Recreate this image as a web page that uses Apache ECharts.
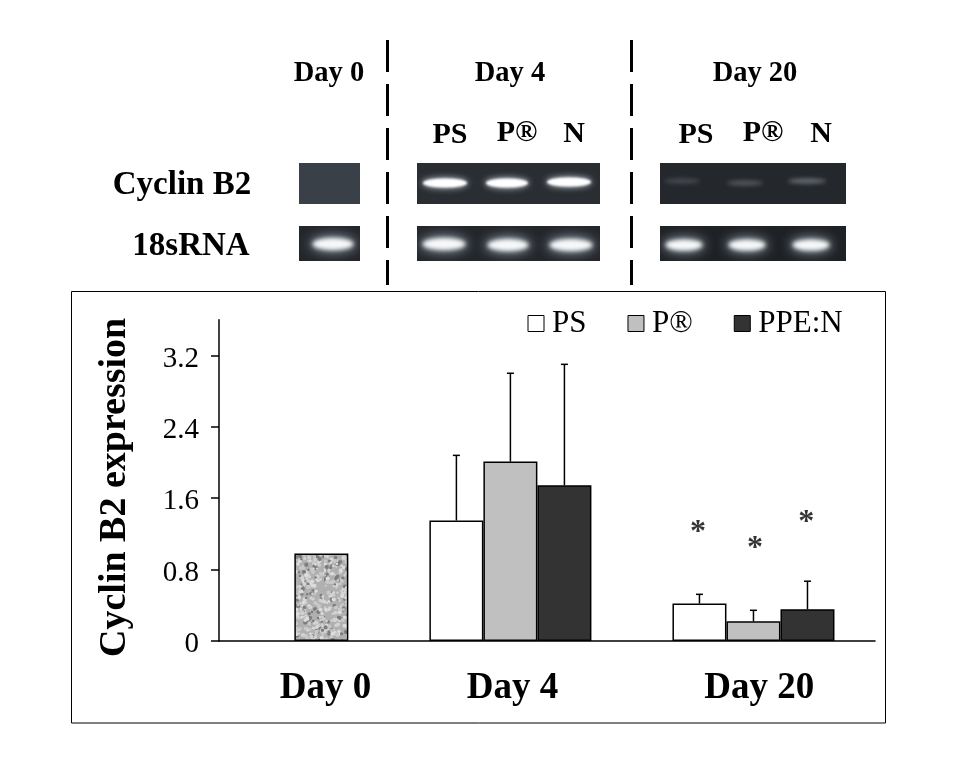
<!DOCTYPE html>
<html>
<head>
<meta charset="utf-8">
<style>html,body{margin:0;padding:0;background:#fff}#c{width:955px;height:784px}</style>
<script src="https://cdn.jsdelivr.net/npm/echarts@6/dist/echarts.min.js"></script>
</head>
<body>
<div id="c"></div>
<script>
// ---- chart data ----
const seriesNames = ['PS', 'P®', 'PPE:N'];
const dayLabels = ['Day 0', 'Day 4', 'Day 20'];
const dayLabelSlots = [4.15, 11.08, 20.21];
const yTickValues = [0, 0.8, 1.6, 2.4, 3.2];
const day0Slot = [4];
const day0Value = [0.98];
const psSlots = [9, 18];
const pSlots = [11, 20];
const nSlots = [13, 22];
const psValues = [1.35, 0.42];
const pValues = [2.01, 0.22];
const nValues = [1.745, 0.355];
const psErrorTop = [2.08, 0.523];
const pErrorTop = [3.0, 0.344];
const nErrorTop = [3.10, 0.67];
const starSlots = [17.95, 20.06, 21.95];
const starValues = [1.21, 1.03, 1.32];

// ---- gel picture above the chart ----
const gelPanels = [
  [299, 163, 61, 41, '#3a4047'], [417, 163, 183, 41, '#2a2e33'], [660, 163, 186, 41, '#24272b'],
  [299, 226, 61, 35, '#23262b'], [417, 226, 183, 35, '#23262b'], [660, 226, 186, 35, '#1e2125']
];
const strongBands = [[445, 183, 22, 4.5], [507, 183, 21, 4.5], [569, 182, 22, 4.5]];
const loadBands = [[333, 244, 20, 5.5], [444, 244, 21, 5.5], [508, 245, 20, 5.5], [571, 245, 21, 5.5],
                   [684, 245, 18, 5], [747, 245, 18, 5], [811, 245, 18, 5]];
const faintBands = [[682, 181, 18, 2.5, .22], [745, 183, 18, 2.5, .3], [807, 181, 19, 2.5, .42]];
const gelTexts = [
  ['Day 0', 329, 74, 28.5], ['Day 4', 510, 74, 28.5], ['Day 20', 755, 74, 28.5],
  ['PS', 450, 135, 30], ['P®', 517, 133, 30], ['N', 574, 134, 30],
  ['PS', 696, 135, 30], ['P®', 763, 133, 30], ['N', 821, 134, 30],
  ['Cyclin B2', 182, 185, 33], ['18sRNA', 191, 246, 33]
];
const dividerX = [387.5, 631.5];

const black = '#000';
const serif = '"Liberation Serif","Times New Roman",serif';

function grainTile() {
  const c = document.createElement('canvas');
  c.width = 54; c.height = 88;
  const g = c.getContext('2d');
  g.fillStyle = '#b0b0b0';
  g.fillRect(0, 0, 54, 88);
  const shades = ['#7c7c7c', '#d2d2d2', '#969696', '#c8c8c8', '#6a6a6a', '#dcdcdc', '#8c8c8c'];
  for (let i = 0; i < 420; i++) {
    const x = (i * 37.7) % 54, y = (i * i * 0.61 + i * 13.3) % 88;
    g.fillStyle = shades[(i * 5 + (i >> 2)) % 7];
    g.beginPath();
    g.arc(x, y, 1.2 + (i % 3) * 0.45, 0, 7);
    g.fill();
  }
  return c;
}

// The gel photograph is painted once to an offscreen canvas so the bands can be truly blurred.
function gelPicture() {
  const c = document.createElement('canvas');
  c.width = 955; c.height = 300;
  const g = c.getContext('2d');
  function band(b, blur, grow, fill) {
    g.filter = 'blur(' + blur + 'px)';
    g.fillStyle = fill;
    g.beginPath();
    g.ellipse(b[0], b[1], b[2] + grow, b[3] + grow, 0, 0, 7);
    g.fill();
    g.filter = 'none';
  }
  gelPanels.forEach(p => {
    g.save();
    g.beginPath();
    g.rect(p[0], p[1], p[2], p[3]);
    g.clip();
    g.fillStyle = p[4];
    g.fillRect(p[0], p[1], p[2], p[3]);
    strongBands.forEach(b => { band(b, 3, 1, 'rgba(215,225,232,.75)'); band(b, 1.2, 0, '#ffffff'); });
    loadBands.forEach(b => { band(b, 6, 3, 'rgba(170,182,195,.75)'); band(b, 2.2, 0.5, '#f6f8f9'); });
    faintBands.forEach(b => band(b, 2.2, 0, 'rgba(205,215,225,' + b[4] + ')'));
    g.restore();
  });
  return c;
}

function pairs(xs, ys) { return xs.map((x, i) => [x, ys[i]]); }

function barSeries(name, xs, ys, fill) {
  return {
    name, type: 'bar', barWidth: 54, barGap: '-100%',
    data: pairs(xs, ys),
    itemStyle: { color: fill, borderColor: black, borderWidth: 1.5 },
    emphasis: { disabled: true }
  };
}

const errorData = [
  ...pairs(psSlots, psValues).map((p, i) => [p[0], p[1], psErrorTop[i]]),
  ...pairs(pSlots, pValues).map((p, i) => [p[0], p[1], pErrorTop[i]]),
  ...pairs(nSlots, nValues).map((p, i) => [p[0], p[1], nErrorTop[i]])
];

const gfx = [];
gfx.push({ type: 'image', x: 0, y: 0, style: { image: gelPicture(), x: 0, y: 0, width: 955, height: 300 }, z: 1, silent: true });
gelTexts.forEach(t => gfx.push({ type: 'text', x: t[1], y: t[2], style: { text: t[0], fill: black, align: 'center', verticalAlign: 'middle', font: 'bold ' + t[3] + 'px ' + serif }, z: 3 }));
dividerX.forEach(x => gfx.push({ type: 'line', shape: { x1: x, y1: 40, x2: x, y2: 285 }, style: { stroke: black, lineWidth: 3, lineDash: [32, 12] }, z: 3 }));
gfx.push({ type: 'rect', shape: { x: 71.5, y: 291.5, width: 814, height: 431.5 }, style: { fill: 'none', stroke: black, lineWidth: 1 }, z: 2 });

const chart = echarts.init(document.getElementById('c'), null, { renderer: 'canvas' });
chart.setOption({
  animation: false,
  backgroundColor: '#fff',
  graphic: gfx,
  textStyle: { fontFamily: serif },
  grid: { left: 219, right: 80, top: 319.7, bottom: 143 },
  legend: {
    left: 522.5, top: 303, icon: 'rect', itemWidth: 16, itemHeight: 16, itemGap: 41,
    selectedMode: false, data: seriesNames,
    itemStyle: { borderWidth: 1 },
    textStyle: { fontFamily: serif, fontSize: 31, color: black, padding: [0, 0, 0, 3] }
  },
  xAxis: {
    type: 'value', min: 0.21, max: 24.5, splitLine: { show: false },
    axisLine: { onZero: false, lineStyle: { color: black, width: 1.5 } },
    axisTick: { show: false },
    axisLabel: {
      customValues: dayLabelSlots,
      formatter: v => dayLabels[dayLabelSlots.indexOf(v)],
      fontFamily: serif, fontWeight: 'bold', fontSize: 37, color: black, margin: 29,
      hideOverlap: false
    }
  },
  yAxis: {
    type: 'value', min: 0, max: 3.6, splitLine: { show: false },
    name: 'Cyclin B2 expression', nameLocation: 'middle', nameGap: 85, nameRotate: 90,
    nameTextStyle: { fontFamily: serif, fontWeight: 'bold', fontSize: 38, color: black, padding: [0, 14, 0, 0] },
    axisLine: { show: true, lineStyle: { color: black, width: 1.5 } },
    axisTick: { show: true, length: 8, customValues: yTickValues, lineStyle: { color: black, width: 1.5 } },
    axisLabel: {
      customValues: yTickValues,
      formatter: v => '{t|' + v + '}',
      rich: { t: { fontFamily: serif, fontSize: 29, color: black, padding: [7, 0, 0, 0] } },
      margin: 20
    }
  },
  series: [
    barSeries('Day 0', day0Slot, day0Value, { image: grainTile(), repeat: 'repeat' }),
    barSeries(seriesNames[0], psSlots, psValues, '#ffffff'),
    barSeries(seriesNames[1], pSlots, pValues, '#c0c0c0'),
    barSeries(seriesNames[2], nSlots, nValues, '#333333'),
    {
      type: 'custom', data: errorData, silent: true, z: 5,
      renderItem(params, api) {
        const a = api.coord([api.value(0), api.value(1)]);
        const b = api.coord([api.value(0), api.value(2)]);
        const st = { stroke: black, lineWidth: 1.5, fill: 'none' };
        return { type: 'group', children: [
          { type: 'line', shape: { x1: a[0], y1: a[1], x2: b[0], y2: b[1] }, style: st },
          { type: 'line', shape: { x1: b[0] - 3.5, y1: b[1], x2: b[0] + 3.5, y2: b[1] }, style: st }
        ] };
      }
    },
    {
      type: 'scatter', data: pairs(starSlots, starValues), symbolSize: 1, silent: true,
      itemStyle: { color: 'rgba(0,0,0,0)' },
      label: { show: true, position: 'inside', formatter: '*', fontFamily: serif, fontWeight: 'bold', fontSize: 32, color: black }
    }
  ]
});
</script>
</body>
</html>
